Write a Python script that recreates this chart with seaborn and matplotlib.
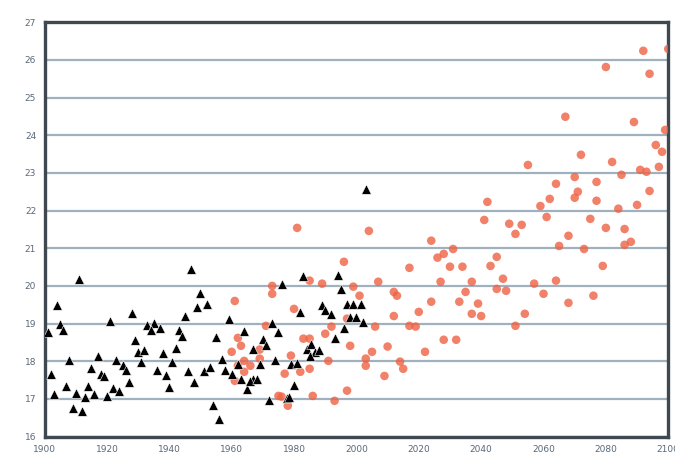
import numpy as np
import pandas as pd
import seaborn as sns
import matplotlib
matplotlib.use("Agg")
import matplotlib.pyplot as plt

# observed record (black triangles)
obs_year = [1901, 1904, 1905, 1906, 1902, 1903, 1908, 1907, 1909, 1912,
            1910, 1911, 1913, 1914, 1915, 1916, 1917, 1918, 1919, 1921,
            1920, 1922, 1923, 1924, 1925, 1926, 1927, 1928, 1929, 1930,
            1932, 1931, 1933, 1935, 1934, 1937, 1936, 1938, 1939, 1940,
            1941, 1942, 1943, 1944, 1945, 1946, 1947, 1948, 1949, 1950,
            1952, 1951, 1953, 1954, 1956, 1955, 1957, 1959, 1958, 1960,
            1962, 1963, 1964, 1965, 1967, 1966.7, 2003, 1970, 1971, 1973,
            1975, 1976, 1983, 1982, 1966, 1968, 1969, 1974, 1979, 1981,
            1980, 1972, 1977.8, 1978.5, 1984, 1985.5, 1986.6, 1988, 1985, 1989,
            1990, 1992, 1993, 1994, 1995, 1996, 1997, 1999, 2001.6, 1998,
            2000, 2002.2]
obs_temp = [18.77, 19.50, 18.98, 18.82, 17.67, 17.14, 18.02, 17.34, 16.76, 16.68,
            17.16, 20.19, 17.05, 17.34, 17.82, 17.14, 18.15, 17.67, 17.61, 19.06,
            17.09, 17.29, 18.02, 17.21, 17.89, 17.76, 17.46, 19.29, 18.57, 18.24,
            18.29, 17.98, 18.95, 19.02, 18.82, 18.88, 17.76, 18.23, 17.64, 17.32,
            17.99, 18.35, 18.82, 18.67, 19.21, 17.73, 20.45, 17.45, 19.44, 19.82,
            19.53, 17.73, 17.85, 16.85, 16.47, 18.64, 18.07, 19.11, 17.76, 17.67,
            17.93, 17.54, 18.79, 17.25, 18.33, 17.54, 22.58, 18.60, 18.42, 19.02,
            18.77, 20.06, 20.26, 19.32, 17.48, 17.54, 17.93, 18.02, 17.93, 17.96,
            17.36, 16.96, 17.02, 17.05, 18.33, 18.46, 18.24, 18.31, 18.15, 19.50,
            19.35, 19.26, 18.62, 20.29, 19.92, 18.88, 19.53, 19.53, 19.53, 19.17,
            19.17, 19.04]

# model simulation (red dots)
sim_year = [1961, 1962, 1960, 1964, 1966, 1962, 1961, 1963, 1969, 1964,
            1973, 1973, 1980, 1981, 1985, 1989, 1996, 2004, 1999, 2001,
            2007, 1997, 2006, 1992, 1985, 1990, 1998, 2005, 2003, 1991,
            1982, 1977, 1979, 1975, 1978, 1986, 1993, 1997, 1976, 1971,
            1983, 1985, 1969, 2003, 2009, 2012, 2012, 2013, 2014, 2015,
            2010, 2017, 2020, 2017, 2019, 2022, 2024, 2026, 2031, 2030,
            2034, 2027, 2024, 2033, 2028, 2032, 2028, 2037, 2035, 2039,
            2037, 2040, 2042, 2041, 2049, 2053, 2051, 2045, 2043, 2047,
            2045, 2048, 2057, 2060, 2064, 2068, 2076, 2079, 2073, 2065,
            2068, 2061, 2075, 2080, 2086, 2086, 2088, 2062, 2059, 2071,
            2070, 2077, 2084, 2090, 2094, 2064, 2077, 2070, 2085, 2055,
            2072, 2082, 2091, 2093, 2097, 2096, 2098, 2099, 2067, 2089,
            2080, 2094, 2092, 2100, 2054, 2051]
sim_temp = [19.60, 18.62, 18.25, 18.01, 17.88, 17.88, 17.48, 18.41, 18.07, 17.72,
            20.00, 19.79, 19.39, 21.54, 20.14, 20.06, 20.64, 21.46, 19.98, 19.74,
            20.11, 19.13, 18.92, 18.92, 18.60, 18.73, 18.41, 18.25, 18.07, 18.01,
            17.72, 17.67, 18.15, 17.08, 16.82, 17.08, 16.95, 17.22, 17.06, 18.94,
            18.60, 17.80, 18.31, 17.88, 17.61, 19.20, 19.84, 19.74, 17.99, 17.80,
            18.39, 20.48, 19.31, 18.94, 18.92, 18.25, 21.20, 20.75, 20.98, 20.51,
            20.51, 20.11, 19.58, 19.58, 18.57, 18.57, 20.85, 20.11, 19.84, 19.53,
            19.26, 19.20, 22.23, 21.75, 21.65, 21.62, 21.38, 20.77, 20.53, 20.19,
            19.92, 19.87, 20.06, 19.79, 20.14, 19.55, 19.74, 20.53, 20.98, 21.06,
            21.33, 21.83, 21.78, 21.54, 21.51, 21.09, 21.17, 22.31, 22.12, 22.50,
            22.34, 22.26, 22.05, 22.15, 22.52, 22.71, 22.76, 22.89, 22.95, 23.21,
            23.48, 23.29, 23.08, 23.03, 23.16, 23.74, 23.56, 24.14, 24.49, 24.35,
            25.81, 25.63, 26.24, 26.29, 19.26, 18.94]

x_ticks = list(range(1900, 2101, 20))
y_ticks = list(range(16, 28))

obs = pd.DataFrame({"year": obs_year, "temp": obs_temp})
sim = pd.DataFrame({"year": sim_year, "temp": sim_temp})

sns.set_style("white")
fig, ax = plt.subplots(figsize=(6.75, 4.62), dpi=100)
fig.subplots_adjust(left=0.066, right=0.99, top=0.952, bottom=0.055)

sns.scatterplot(data=sim, x="year", y="temp", ax=ax, marker="o", s=38,
                color="#ee6244", alpha=0.8, edgecolor="none", zorder=3)
sns.scatterplot(data=obs, x="year", y="temp", ax=ax, marker="^", s=48,
                color="black", edgecolor="white", linewidth=0.4, zorder=4)

ax.set_xlim(1900, 2100)
ax.set_ylim(16, 27)
ax.set_xticks(x_ticks)
ax.set_yticks(y_ticks)
ax.set_xlabel("")
ax.set_ylabel("")
ax.grid(axis="y", color="#9fb0bf", linewidth=1.6, zorder=0)
ax.grid(axis="x", visible=False)
ax.set_axisbelow(True)

for sp in ax.spines.values():
    sp.set_color("#3f4850")
    sp.set_linewidth(2.4)

ax.tick_params(axis="both", direction="out", length=3, width=1,
               color="#8898a8", labelsize=6.5, labelcolor="#5a6878", pad=3)

fig.savefig("out.png", dpi=100)
